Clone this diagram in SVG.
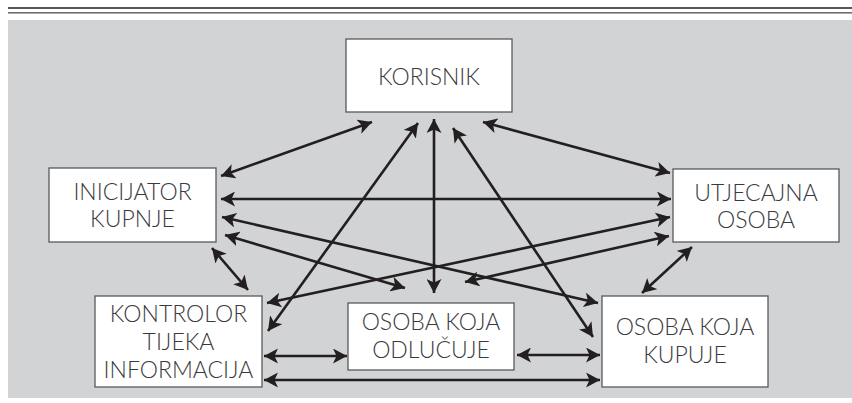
<svg xmlns="http://www.w3.org/2000/svg" width="852" height="403" viewBox="0 0 852 403">
  <defs>
    <marker id="ah" markerUnits="userSpaceOnUse" markerWidth="15" markerHeight="15" refX="14" refY="7.5" orient="auto-start-reverse" viewBox="0 0 15 15">
      <path d="M0,0 L14,7.5 L0,15 L3.5,7.5 z" fill="#231f20"/>
    </marker>
    <style>
      .box { fill: #ffffff; stroke: #58595b; stroke-width: 1.3; }
      .lbl { font-family: Lato, "Open Sans", "Liberation Sans", sans-serif; font-weight: 300; font-size: 23px; fill: #3a3a3c; text-anchor: middle; }
      .con line { stroke: #231f20; stroke-width: 2.6; marker-start: url(#ah); marker-end: url(#ah); }
    </style>
  </defs>
  <rect x="0" y="0" width="852" height="403" fill="#ffffff"/>
  <line x1="8" y1="8" x2="852" y2="8" stroke="#231f20" stroke-width="1.4"/>
  <line x1="8" y1="12.5" x2="852" y2="12.5" stroke="#6d6e71" stroke-width="1"/>
  <line x1="8" y1="13.5" x2="852" y2="13.5" stroke="#a7a9ac" stroke-width="1"/>
  <rect x="8" y="20" width="844" height="378" fill="#d1d3d4"/>

  <g id="connectors" class="con">
    <line x1="372" y1="122" x2="221" y2="176"/>
    <line x1="483" y1="122" x2="670" y2="173"/>
    <line x1="221" y1="199" x2="671" y2="199"/>
    <line x1="434" y1="119" x2="434" y2="293"/>
    <line x1="418" y1="123" x2="268" y2="331"/>
    <line x1="453" y1="128" x2="593" y2="337"/>
    <line x1="222" y1="217" x2="598" y2="303"/>
    <line x1="225" y1="235" x2="405" y2="288"/>
    <line x1="670" y1="217" x2="267" y2="303"/>
    <line x1="669" y1="236" x2="465" y2="282"/>
    <line x1="212" y1="248" x2="248" y2="290"/>
    <line x1="692" y1="247" x2="642" y2="293"/>
    <line x1="264" y1="356" x2="347" y2="356"/>
    <line x1="517" y1="355" x2="600" y2="355"/>
    <line x1="264" y1="380" x2="600" y2="380"/>
  </g>

  <g id="korisnik">
    <rect class="box" x="346" y="39" width="166" height="73"/>
    <text class="lbl" x="429" y="85">KORISNIK</text>
  </g>
  <g id="inicijator">
    <rect class="box" x="49" y="168" width="167" height="74"/>
    <text class="lbl" x="132.5" y="200">INICIJATOR</text>
    <text class="lbl" x="132.5" y="227">KUPNJE</text>
  </g>
  <g id="utjecajna">
    <rect class="box" x="673" y="169" width="166" height="73"/>
    <text class="lbl" x="756" y="201">UTJECAJNA</text>
    <text class="lbl" x="756" y="228">OSOBA</text>
  </g>
  <g id="kontrolor">
    <rect class="box" x="95" y="296" width="167" height="91"/>
    <text class="lbl" x="178.5" y="322">KONTROLOR</text>
    <text class="lbl" x="178.5" y="350">TIJEKA</text>
    <text class="lbl" x="178.5" y="378">INFORMACIJA</text>
  </g>
  <g id="odlucuje">
    <rect class="box" x="348" y="303" width="166" height="67"/>
    <text class="lbl" x="431" y="330">OSOBA KOJA</text>
    <text class="lbl" x="431" y="358">ODLUČUJE</text>
  </g>
  <g id="kupuje">
    <rect class="box" x="602" y="296" width="166" height="91"/>
    <text class="lbl" x="685" y="335">OSOBA KOJA</text>
    <text class="lbl" x="685" y="363">KUPUJE</text>
  </g>
</svg>
